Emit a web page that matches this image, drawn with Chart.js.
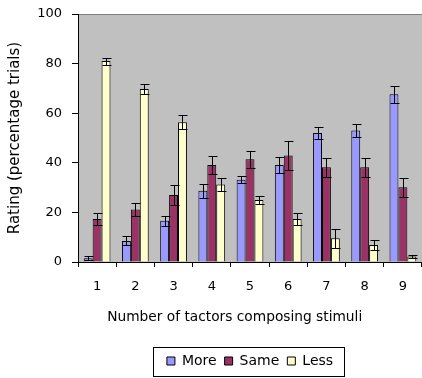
<!DOCTYPE html>
<html>
<head>
<meta charset="utf-8">
<script src="https://cdn.jsdelivr.net/npm/chart.js@4.4.0/dist/chart.umd.min.js"></script>
<style>
  body { margin: 0; background: #ffffff; }
  #wrap { width: 422px; height: 378px; }
</style>
</head>
<body>
<div id="wrap"><canvas id="rating-chart" width="422" height="378"></canvas></div>
<script>
// number of tactors
let categories = ['1', '2', '3', '4', '5', '6', '7', '8', '9']

let moreValues = [1.5, 8.5, 16.6, 28.7, 33.2, 39.1, 52, 53, 67.6]
let sameValues = [17.3, 21.2, 27, 39.1, 41.4, 42.9, 38.2, 38.2, 30.1]
let lessValues = [81, 69.8, 56.4, 31.2, 25, 17.3, 9.6, 6.9, 2.2]

let moreErrors = [0.8, 1.8, 2, 2.7, 1.5, 3.1, 2.4, 2.7, 3.5]
let sameErrors = [2.4, 2.5, 3.9, 3.8, 3.4, 5.7, 3.8, 3.8, 3.8]
let lessErrors = [1.4, 1.9, 2.7, 2.5, 1.8, 2.4, 3.8, 1.9, 0.5]

let yTicks = [0, 20, 40, 60, 80, 100]

var errorLists = [moreErrors, sameErrors, lessErrors]
var fontName = 'DejaVu Sans'

// grey plot background + top border line
var plotBackground = {
    id: 'plotBackground',
    beforeDraw: function (chart) {
        var ctx = chart.ctx;
        var a = chart.chartArea;
        ctx.save();
        ctx.fillStyle = '#c0c0c0';
        ctx.fillRect(a.left, a.top, a.right - a.left, a.bottom - a.top);
        ctx.strokeStyle = '#808080';
        ctx.lineWidth = 1;
        ctx.beginPath();
        ctx.moveTo(a.left, a.top + 0.5);
        ctx.lineTo(a.right, a.top + 0.5);
        ctx.stroke();
        ctx.restore();
    }
};

// error bars drawn through the y scale
var errorBars = {
    id: 'errorBars',
    afterDatasetsDraw: function (chart) {
        var ctx = chart.ctx;
        var yScale = chart.scales.y;
        ctx.save();
        ctx.strokeStyle = '#000000';
        ctx.lineWidth = 1;
        chart.data.datasets.forEach(function (ds, i) {
            var meta = chart.getDatasetMeta(i);
            meta.data.forEach(function (bar, j) {
                var v = ds.data[j];
                var e = errorLists[i][j];
                var x = Math.round(bar.x) + 0.5;
                var yTop = Math.round(yScale.getPixelForValue(v + e)) + 0.5;
                var yBot = Math.round(yScale.getPixelForValue(Math.max(0, v - e))) + 0.5;
                ctx.beginPath();
                ctx.moveTo(x, yTop);
                ctx.lineTo(x, yBot);
                ctx.moveTo(x - 4, yTop);
                ctx.lineTo(x + 5, yTop);
                ctx.moveTo(x - 4, yBot);
                ctx.lineTo(x + 5, yBot);
                ctx.stroke();
            });
        });
        ctx.restore();
    }
};

// frame around the legend items
var legendFrame = {
    id: 'legendFrame',
    afterDraw: function (chart) {
        var boxes = chart.legend.legendHitBoxes;
        if (!boxes || !boxes.length) return;
        var x0 = Math.min.apply(null, boxes.map(b => b.left));
        var x1 = Math.max.apply(null, boxes.map(b => b.left + b.width));
        var yc = boxes[0].top + boxes[0].height / 2;
        var ctx = chart.ctx;
        ctx.save();
        ctx.strokeStyle = '#000000';
        ctx.lineWidth = 1;
        ctx.strokeRect(Math.round(x0 - 14) + 0.5, Math.round(yc - 14) + 0.5,
            Math.round(x1 - x0 + 25), 29);
        ctx.restore();
    }
};

var ctx = document.getElementById('rating-chart').getContext('2d');
var ratingChart = new Chart(ctx, {
    type: 'bar',
    data: {
        labels: categories,
        datasets: [{
            label: 'More',
            data: moreValues,
            backgroundColor: '#9999ff',
            borderColor: '#000000',
            borderWidth: 1
        }, {
            label: 'Same',
            data: sameValues,
            backgroundColor: '#993366',
            borderColor: '#000000',
            borderWidth: 1
        }, {
            label: 'Less',
            data: lessValues,
            backgroundColor: '#ffffcc',
            borderColor: '#000000',
            borderWidth: 1
        }]
    },
    options: {
        responsive: false,
        animation: false,
        layout: {
            padding: { top: 14, right: 0, left: 0, bottom: 0 }
        },
        datasets: {
            bar: {
                categoryPercentage: 0.7,
                barPercentage: 1.0
            }
        },
        plugins: {
            tooltip: { enabled: false },
            legend: {
                position: 'bottom',
                fullSize: false,
                labels: {
                    boxWidth: 8,
                    boxHeight: 8,
                    padding: 8,
                    color: '#000000',
                    font: { family: fontName, size: 14 }
                }
            }
        },
        scales: {
            x: {
                grid: {
                    drawOnChartArea: false,
                    tickLength: 5,
                    color: '#000000'
                },
                border: { color: '#000000' },
                ticks: {
                    color: '#000000',
                    padding: 12,
                    font: { family: fontName, size: 13 }
                },
                title: {
                    display: true,
                    // trailing spaces pull the centred title a bit to the left, as in the original
                    text: 'Number of tactors composing stimuli       ',
                    color: '#000000',
                    padding: { top: 4, bottom: 20 },
                    font: { family: fontName, size: 13.75 }
                },
                afterFit: function (s) { s.height = 84; }
            },
            y: {
                min: 0,
                max: 100,
                afterBuildTicks: function (s) {
                    s.ticks = yTicks.map(v => ({ value: v }));
                },
                grid: {
                    drawOnChartArea: false,
                    tickLength: 6,
                    color: '#000000'
                },
                border: { color: '#000000' },
                ticks: {
                    color: '#000000',
                    padding: 10,
                    font: { family: fontName, size: 13 }
                },
                title: {
                    display: true,
                    text: 'Rating (percentage trials)',
                    color: '#000000',
                    padding: { top: 6, bottom: 0 },
                    font: { family: fontName, size: 15 }
                },
                afterFit: function (s) {
                    s.width = 78;
                    s.paddingTop = 2;
                    s.paddingBottom = 2;
                }
            }
        }
    },
    plugins: [plotBackground, errorBars, legendFrame]
});
</script>
</body>
</html>
